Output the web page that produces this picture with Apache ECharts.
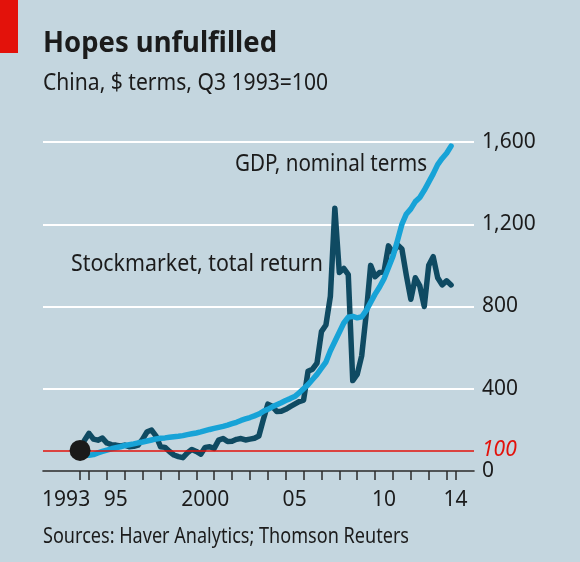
<!DOCTYPE html>
<html>
<head>
<meta charset="utf-8">
<script src="https://cdn.jsdelivr.net/npm/echarts@6/dist/echarts.min.js"></script>
<style>
html,body{margin:0;padding:0;background:#c4d6df;}
#chart{width:580px;height:562px;}
</style>
</head>
<body>
<div id="chart"></div>
<script>
// Quarterly observations, Q3 1993 = 100
const quarters = [
  1993.5,1993.75,
  1994,1994.25,1994.5,1994.75, 1995,1995.25,1995.5,1995.75,
  1996,1996.25,1996.5,1996.75, 1997,1997.25,1997.5,1997.75,
  1998,1998.25,1998.5,1998.75, 1999,1999.25,1999.5,1999.75,
  2000,2000.25,2000.5,2000.75, 2001,2001.25,2001.5,2001.75,
  2002,2002.25,2002.5,2002.75, 2003,2003.25,2003.5,2003.75,
  2004,2004.25,2004.5,2004.75, 2005,2005.25,2005.5,2005.75,
  2006,2006.25,2006.5,2006.75, 2007,2007.25,2007.5,2007.75,
  2008,2008.25,2008.5,2008.75, 2009,2009.25,2009.5,2009.75,
  2010,2010.25,2010.5,2010.75, 2011,2011.25,2011.5,2011.75,
  2012,2012.25,2012.5,2012.75, 2013,2013.25,2013.5,2013.75,
  2014,2014.25
];
const stockmarket = [
  100,150,183,155,150,160,136,128,126,122,
  126,118,120,126,155,191,199,170,118,115,
  95,78,70,65,88,105,95,82,115,118,
  110,150,158,143,145,154,158,151,155,159,
  170,250,325,315,289,290,300,313,325,337,
  345,485,495,525,678,710,850,1278,965,985,
  955,440,470,560,760,1000,945,965,969,1095,
  1060,1100,1080,950,835,940,900,800,1000,1042,
  940,905,925,905
];
const gdpNominal = [
  100,82,76,80,88,95,102,108,113,118,
  124,128,132,137,141,146,151,156,159,161,
  164,167,169,172,177,181,185,190,196,202,
  207,212,217,223,230,237,246,253,260,268,
  277,290,300,312,322,332,343,352,362,380,
  400,420,445,470,500,530,585,630,675,720,
  748,752,745,750,780,820,860,895,935,990,
  1045,1120,1200,1250,1275,1310,1330,1365,1405,1445,
  1490,1520,1545,1580
];
const baseValue = 100;
const baseTime = 1993.5;
const yTicks = [0, 400, 800, 1200, 1600];
const xTickValues = [1993.5,1994,1995,1996,1997,1998,1999,2000,2001,2002,2003,2004,2005,2006,2007,2008,2009,2010,2011,2012,2013,2014,2014.5];
const xLabelValues = [1992.72, 1995.5, 2000.5, 2005.5, 2010.5, 2014.5];
const xLabelTexts = ['1993', '95', '2000', '05', '10', '14'];

const TXT = '#1b1b1b';
const FONT = 'Noto Sans';
const mctx = document.createElement('canvas').getContext('2d');
function fitScale(text, weight, size, target) {
  mctx.font = weight + ' ' + size + 'px "' + FONT + '"';
  return target / mctx.measureText(text).width;
}
function txt(text, x, y, size, weight, target) {
  return {
    type: 'text', x: x, y: y,
    scaleX: fitScale(text, weight, size, target), scaleY: 1,
    style: { text: text, fontSize: size, fontWeight: weight, fontFamily: FONT,
      fill: TXT, align: 'left', verticalAlign: 'middle' },
    z: 10
  };
}

const chart = echarts.init(document.getElementById('chart'), null, {renderer: 'canvas'});
const stockData = quarters.map((q, i) => [q, stockmarket[i]]);
const gdpData = quarters.map((q, i) => [q, gdpNominal[i]]);

chart.setOption({
  backgroundColor: '#c4d6df',
  animation: false,
  grid: { left: 43, right: 106, top: 142, bottom: 91 },
  xAxis: {
    type: 'value', min: 1991.427, max: 2015.532,
    splitLine: { show: false },
    axisLine: { show: true, onZero: false, lineStyle: { color: '#2a2a2a', width: 1.6 } },
    axisTick: { show: true, customValues: xTickValues, length: 9, lineStyle: { color: '#2a2a2a', width: 1.5 } },
    axisLabel: {
      customValues: xLabelValues, margin: 19,
      fontFamily: FONT, fontSize: 21, color: TXT,
      formatter: function (v) {
        for (let i = 0; i < xLabelValues.length; i++) if (Math.abs(v - xLabelValues[i]) < 0.01) return xLabelTexts[i];
        return '';
      }
    }
  },
  yAxis: {
    type: 'value', position: 'right', min: 0, max: 1600, interval: 400,
    axisLine: { show: false }, axisTick: { show: false },
    splitLine: { show: true, lineStyle: { color: ['rgba(0,0,0,0)', '#ffffff', '#ffffff', '#ffffff', '#ffffff'], width: 2 } },
    axisLabel: {
      customValues: yTicks, margin: 8, fontFamily: FONT, fontSize: 21, color: TXT,
      showMinLabel: true, showMaxLabel: true,
      formatter: function (v) { return v.toLocaleString('en-US'); }
    }
  },
  series: [
    {
      name: 'base', type: 'line', data: [], z: 1,
      markLine: {
        silent: true, symbol: ['none', 'none'],
        label: { show: true, position: 'end', distance: 8, formatter: String(baseValue),
          color: '#e3120b', fontStyle: 'italic', fontFamily: FONT, fontSize: 21 },
        lineStyle: { color: '#e3120b', width: 1.6, type: 'solid' },
        data: [{ yAxis: baseValue }]
      }
    },
    {
      name: 'Stockmarket, total return', type: 'line', data: stockData, z: 3,
      showSymbol: false, symbol: 'none',
      lineStyle: { color: '#0f4a62', width: 5.5, cap: 'round', join: 'round' }
    },
    {
      name: 'GDP, nominal terms', type: 'line', data: gdpData, z: 4,
      showSymbol: false, symbol: 'none',
      lineStyle: { color: '#17a3d7', width: 5.5, cap: 'round', join: 'round' }
    },
    {
      name: 'base point', type: 'scatter', data: [[baseTime, baseValue]], z: 6,
      symbolSize: 21, itemStyle: { color: '#1a1a1a', opacity: 1 }
    }
  ],
  graphic: [
    { type: 'rect', shape: { x: 0, y: 0, width: 18, height: 53 }, style: { fill: '#e3120b' }, z: 10 },
    txt('Hopes unfulfilled', 43, 44, 29, 'bold', 234),
    txt('China, $ terms, Q3 1993=100', 43, 83, 23, 'normal', 285),
    txt('GDP, nominal terms', 235, 164, 23, 'normal', 192),
    txt('Stockmarket, total return', 71, 264, 23, 'normal', 252),
    txt('Sources: Haver Analytics; Thomson Reuters', 43, 537, 21, 'normal', 366)
  ]
});
</script>
</body>
</html>
